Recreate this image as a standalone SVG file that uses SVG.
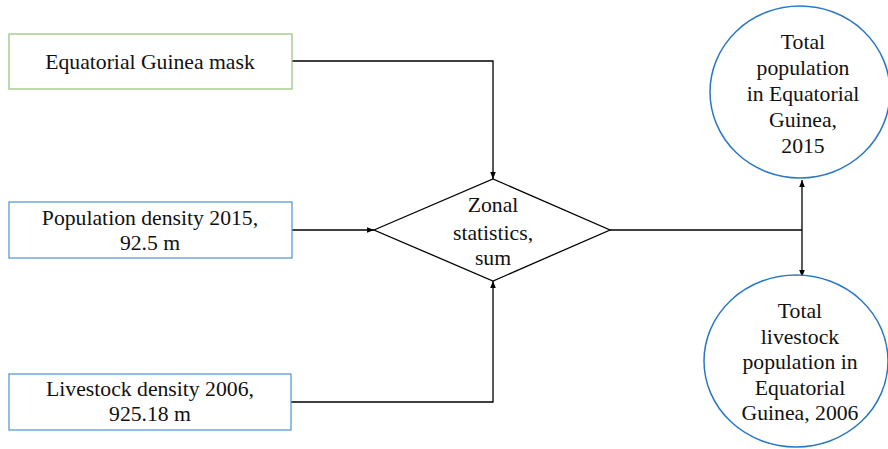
<svg xmlns="http://www.w3.org/2000/svg" width="888" height="449" viewBox="0 0 888 449">
<style>
text{font-family:"Liberation Serif","Times New Roman",serif;font-size:21.7px;fill:#111;text-anchor:middle}
.g{fill:#fff;stroke:#9CC67F;stroke-width:1.3}
.b{fill:#fff;stroke:#5B9BD5;stroke-width:1.3}
.c{fill:#fff;stroke:#2B78C2;stroke-width:1.5}
.d{fill:#fff;stroke:#000;stroke-width:1.3}
.l{fill:none;stroke:#000;stroke-width:1.3}
</style>
<defs>
<marker id="a" viewBox="0 0 10 10" refX="10" refY="5" markerWidth="7" markerHeight="7" orient="auto-start-reverse" markerUnits="userSpaceOnUse"><path d="M0,1 L10,5 L0,9 z" fill="#000"/></marker>
</defs>
<g id="connectors">
<path class="l" d="M292,61 H493 V179" marker-end="url(#a)"/>
<path class="l" d="M292,230 H374" marker-end="url(#a)"/>
<path class="l" d="M291,402 H493 V281" marker-end="url(#a)"/>
<path class="l" d="M610,230 H802"/>
<path class="l" d="M802,180 V277" marker-start="url(#a)" marker-end="url(#a)"/>
</g>
<g id="mask">
<rect class="g" x="9" y="34" width="283" height="55"/>
<text x="150" y="69">Equatorial Guinea mask</text>
</g>
<g id="popdensity">
<rect class="b" x="9" y="202" width="283" height="56"/>
<text x="150" y="225">Population density 2015,</text>
<text x="150" y="250">92.5 m</text>
</g>
<g id="livedensity">
<rect class="b" x="9" y="374" width="282" height="56"/>
<text x="150" y="396">Livestock density 2006,</text>
<text x="150" y="421">925.18 m</text>
</g>
<g id="zonal">
<polygon class="d" points="374,230 493,179 610,230 493,281"/>
<text x="493" y="212">Zonal</text>
<text x="493" y="240">statistics,</text>
<text x="493" y="265">sum</text>
</g>
<g id="totalpop">
<ellipse class="c" cx="800" cy="92" rx="90" ry="86"/>
<text x="803" y="49">Total</text>
<text x="803" y="75">population</text>
<text x="803" y="101">in Equatorial</text>
<text x="803" y="127">Guinea,</text>
<text x="803" y="153">2015</text>
</g>
<g id="totallive">
<ellipse class="c" cx="796" cy="361" rx="92" ry="86"/>
<text x="800" y="318">Total</text>
<text x="800" y="344">livestock</text>
<text x="800" y="369">population in</text>
<text x="800" y="395">Equatorial</text>
<text x="800" y="420">Guinea, 2006</text>
</g>
</svg>
